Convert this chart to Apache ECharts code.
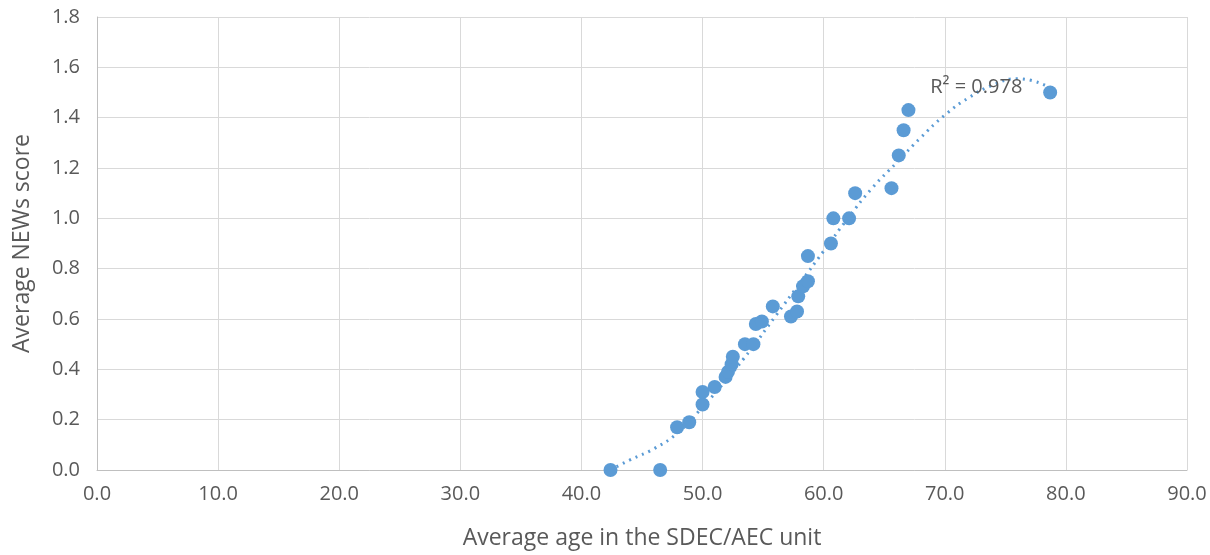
<!DOCTYPE html>
<html>
<head>
<meta charset="utf-8">
<script src="https://cdn.jsdelivr.net/npm/echarts@6/dist/echarts.min.js"></script>
<style>
  html, body { margin: 0; padding: 0; background: #fff; }
  #chart { width: 1210px; height: 555px; }
</style>
</head>
<body>
<div id="chart"></div>
<script>
// average age per unit / average NEWs score
var ages = [42.4, 46.5, 47.9, 48.9, 50.0, 50.0, 51.0, 51.9, 52.1, 52.4, 52.5,
            53.5, 54.2, 54.4, 54.9, 55.8, 57.3, 57.8, 57.9, 58.3, 58.7, 58.7,
            60.6, 60.8, 62.1, 62.6, 65.6, 66.2, 66.6, 67.0, 78.7];
var scores = [0.00, 0.00, 0.17, 0.19, 0.26, 0.31, 0.33, 0.37, 0.39, 0.42, 0.45,
              0.50, 0.50, 0.58, 0.59, 0.65, 0.61, 0.63, 0.69, 0.73, 0.75, 0.85,
              0.90, 1.00, 1.00, 1.10, 1.12, 1.25, 1.35, 1.43, 1.50];

// trend line
var trendX = [42.4, 44, 46, 48, 50, 52, 54, 56, 58, 60, 62, 64, 66, 68, 70, 72, 74, 76, 78.7];
var trendY = [0.00, 0.04, 0.085, 0.15, 0.25, 0.36, 0.48, 0.61, 0.74, 0.87, 1.00, 1.12, 1.22, 1.32, 1.41, 1.48, 1.53, 1.555, 1.52];

var r2Label = 'R\u00b2 = 0.978';
var r2Pos = [68.8, 1.52];

var blue = '#5B9BD5';
var font = 'Open Sans';

var chart = echarts.init(document.getElementById('chart'));

var points = ages.map(function (a, i) { return [a, scores[i]]; });
var trend = trendX.map(function (a, i) { return [a, trendY[i]]; });

chart.setOption({
  animation: false,
  grid: { left: 97, right: 23, top: 17, bottom: 84 },
  xAxis: {
    type: 'value',
    min: 0, max: 90, interval: 10,
    name: 'Average age in the SDEC/AEC unit',
    nameLocation: 'middle',
    nameGap: 57,
    nameTextStyle: { color: '#595959', fontSize: 23, fontFamily: font },
    axisLine: { show: true, lineStyle: { color: '#bfbfbf' } },
    axisTick: { show: false },
    axisLabel: {
      color: '#595959', fontSize: 20, fontFamily: font, margin: 14,
      formatter: function (v) { return v.toFixed(1); }
    },
    splitLine: { show: true, lineStyle: { color: '#d9d9d9' } }
  },
  yAxis: {
    type: 'value',
    min: 0, max: 1.8, interval: 0.2,
    name: 'Average NEWs score',
    nameLocation: 'middle',
    nameGap: 63,
    nameTextStyle: { color: '#595959', fontSize: 23, fontFamily: font },
    axisLine: { show: true, lineStyle: { color: '#bfbfbf' } },
    axisTick: { show: false },
    axisLabel: {
      color: '#595959', fontSize: 20, fontFamily: font, margin: 17,
      formatter: function (v) { return v.toFixed(1); }
    },
    splitLine: { show: true, lineStyle: { color: '#d9d9d9' } }
  },
  series: [
    {
      type: 'line',
      data: trend,
      smooth: true,
      symbol: 'none',
      lineStyle: { color: blue, width: 3, type: [2, 5] },
      z: 3,
      markPoint: {
        symbol: 'circle',
        symbolSize: 0,
        data: [{ coord: r2Pos }],
        label: {
          show: true,
          formatter: r2Label,
          position: 'right',
          distance: 0,
          color: '#595959',
          fontSize: 20,
          fontFamily: font
        }
      }
    },
    {
      type: 'scatter',
      data: points,
      symbolSize: 14,
      itemStyle: { color: blue, opacity: 1 },
      z: 4
    }
  ]
});
</script>
</body>
</html>
